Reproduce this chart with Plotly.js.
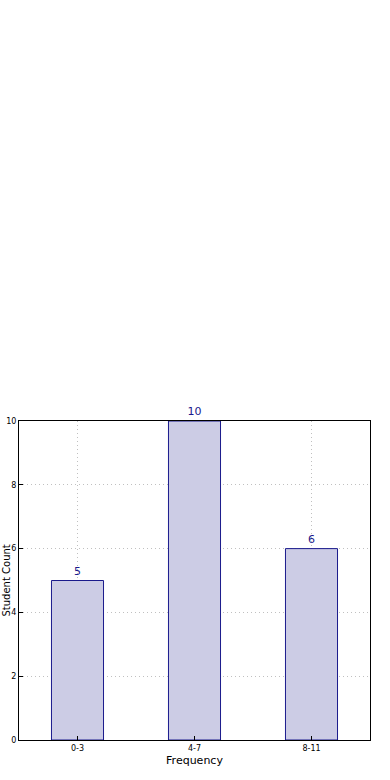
<!DOCTYPE html>
<html><head><meta charset="utf-8">
<script src="https://cdn.plot.ly/plotly-3.0.1.min.js"></script>
<style>html,body{margin:0;padding:0;background:#fff}#c{width:390px;height:780px}</style>
</head><body><div id="c"></div>
<script>
const categories = ["0-3", "4-7", "8-11"];
const counts = [5, 10, 6];
const yTicks = [0, 2, 4, 6, 8, 10];

const trace = {
  type: "bar",
  x: categories,
  y: counts,
  text: counts.map(String),
  textposition: "outside",
  cliponaxis: false,
  textfont: {family: "DejaVu Sans", size: 11, color: "#1a1a8c"},
  marker: {color: "#cccce5", line: {color: "#1a1a8c", width: 1}},
  hoverinfo: "none"
};

const layout = {
  width: 390, height: 780,
  margin: {l: 19, r: 20, t: 421, b: 40},
  paper_bgcolor: "#fff", plot_bgcolor: "#fff",
  bargap: 0.555,
  showlegend: false,
  font: {family: "DejaVu Sans", color: "#000"},
  xaxis: {
    type: "category",
    tickfont: {size: 8},
    showline: true, linecolor: "#000", linewidth: 1, mirror: true,
    showgrid: true, gridcolor: "#c0c0c0", griddash: "1px,3px", gridwidth: 1,
    ticks: "inside", ticklen: 4, tickcolor: "#000",
    zeroline: false,
    title: {text: "Frequency", font: {size: 11}, standoff: 4},
    automargin: false
  },
  yaxis: {
    range: [0, 10],
    tickvals: yTicks,
    tickfont: {size: 8},
    showline: true, linecolor: "#000", linewidth: 1, mirror: true,
    showgrid: true, gridcolor: "#c0c0c0", griddash: "1px,3px", gridwidth: 1,
    ticks: "inside", ticklen: 4, tickcolor: "#000",
    zeroline: false,
    automargin: false
  },
  annotations: [{
    text: "Student Count", xref: "paper", yref: "paper",
    x: -0.037, y: 0.5, xanchor: "center", yanchor: "middle",
    textangle: -90, showarrow: false, font: {size: 10, family: "DejaVu Sans"}
  }]
};

Plotly.newPlot("c", [trace], layout, {displayModeBar: false, staticPlot: true});
</script></body></html>
